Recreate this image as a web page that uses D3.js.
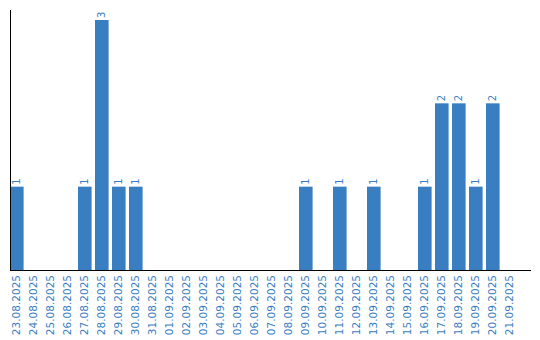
<!DOCTYPE html>
<html>
<head>
<meta charset="utf-8">
<script src="https://cdn.jsdelivr.net/npm/d3@7"></script>
<style>
  body { margin: 0; background: #fff; }
  svg { display: block; }
</style>
</head>
<body>
<svg id="chart" width="540" height="340"></svg>
<script>
// dates shown on the x axis
const dates = [
  '23.08.2025','24.08.2025','25.08.2025','26.08.2025','27.08.2025','28.08.2025',
  '29.08.2025','30.08.2025','31.08.2025','01.09.2025','02.09.2025','03.09.2025',
  '04.09.2025','05.09.2025','06.09.2025','07.09.2025','08.09.2025','09.09.2025',
  '10.09.2025','11.09.2025','12.09.2025','13.09.2025','14.09.2025','15.09.2025',
  '16.09.2025','17.09.2025','18.09.2025','19.09.2025','20.09.2025','21.09.2025'
]
const counts = [1,0,0,0,1,3,1,1,0,0,0,0,0,0,0,0,0,1,0,1,0,1,0,0,1,2,2,1,2,0]

const BLUE = '#3a7ec2'
const LEFT = 10, BASE = 270, TOP = 10
const STEP = 17

let data = dates.map((d, i) => ({date: d, value: counts[i]}))

let svg = d3.select('#chart')

let x = d3.scaleBand()
  .domain(dates)
  .range([LEFT, LEFT + STEP * 29.8])
  .paddingInner(0.2)
  .paddingOuter(0)

let y = d3.scaleLinear()
  .domain([0, 3])
  .range([BASE, 20])

// bars
svg.append('g')
  .selectAll('rect')
  .data(data.filter(d => d.value > 0))
  .join('rect')
  .attr('x', d => x(d.date))
  .attr('y', d => y(d.value))
  .attr('width', x.bandwidth())
  .attr('height', d => BASE - y(d.value))
  .attr('fill', BLUE)

// value labels above bars
svg.append('g')
  .selectAll('text')
  .data(data.filter(d => d.value > 0))
  .join('text')
  .attr('transform', d => 'translate(' + (x(d.date) + x.bandwidth() / 2) + ',' + (y(d.value) - 2) + ') rotate(-90)')
  .attr('dy', '0.35em')
  .attr('text-anchor', 'start')
  .attr('font-family', 'DejaVu Sans, sans-serif')
  .attr('font-size', '10px')
  .attr('fill', BLUE)
  .text(d => d.value)

// x axis labels
svg.append('g')
  .selectAll('text')
  .data(dates)
  .join('text')
  .attr('transform', d => 'translate(' + (x(d) + x.bandwidth() / 2) + ',' + (BASE + 5) + ') rotate(-90)')
  .attr('dy', '0.35em')
  .attr('text-anchor', 'end')
  .attr('font-family', 'DejaVu Sans, sans-serif')
  .attr('font-size', '10.5px')
  .attr('fill', BLUE)
  .text(d => d)

// axis lines
svg.append('line')
  .attr('x1', LEFT + 0.5).attr('x2', LEFT + 0.5)
  .attr('y1', TOP).attr('y2', BASE)
  .attr('stroke', '#000')
  .attr('stroke-width', 1)

svg.append('line')
  .attr('x1', LEFT).attr('x2', 531)
  .attr('y1', BASE + 0.5).attr('y2', BASE + 0.5)
  .attr('stroke', '#000')
  .attr('stroke-width', 1)
</script>
</body>
</html>
